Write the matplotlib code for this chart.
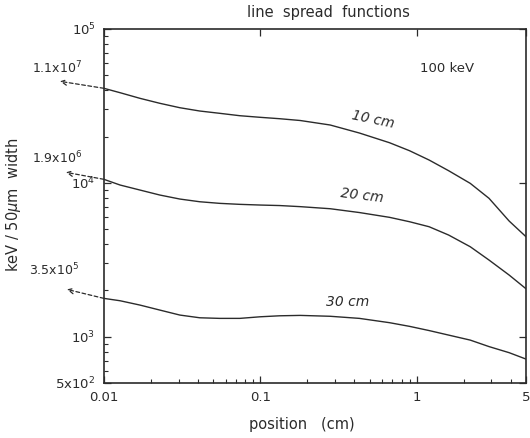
import numpy as np
import matplotlib
matplotlib.use("Agg")
import matplotlib.pyplot as plt
from matplotlib.ticker import FixedLocator, LogLocator, NullFormatter
from matplotlib.transforms import offset_copy

# position (cm) and keV / 50 um width
position = [0.01, 0.0127, 0.017, 0.0228, 0.0306, 0.041, 0.055, 0.074, 0.1,
            0.133, 0.18, 0.28, 0.43, 0.67, 0.9, 1.2, 1.6, 2.2, 2.9, 3.9, 5.0]
lsf_10cm = [41160, 38530, 35430, 32880, 30780, 29300, 28310, 27310, 26660,
            26110, 25420, 23760, 21080, 18230, 16170, 14070, 11990, 9920,
            7930, 5645, 4463]
lsf_20cm = [10540, 9676, 8979, 8330, 7846, 7535, 7356, 7247, 7172,
            7118, 7002, 6787, 6411, 5967, 5587, 5184, 4578, 3842,
            3148, 2515, 2048]
lsf_30cm = [1774, 1712, 1605, 1489, 1382, 1327, 1315, 1315, 1347,
            1367, 1375, 1357, 1315, 1233, 1167, 1096, 1024, 950,
            862, 787, 715]

curve_labels = ["10 cm", "20 cm", "30 cm"]
totals = [r"1.1x$10^7$", r"1.9x$10^6$", r"3.5x$10^5$"]

x_ticks = [0.01, 0.1, 1, 5]
x_ticklabels = ["0.01", "0.1", "1", "5"]
y_ticks = [500, 1e3, 1e4, 1e5]
y_ticklabels = [r"5x$10^2$", r"$10^3$", r"$10^4$", r"$10^5$"]

ink = "#2b2b2b"
plt.rcParams["font.family"] = ["DejaVu Sans"]
plt.rcParams["mathtext.fontset"] = "dejavusans"

fig = plt.figure(figsize=(5.3, 4.38), dpi=100)
ax = fig.add_axes([0.196, 0.1256, 0.7965, 0.8082])

series = [lsf_10cm, lsf_20cm, lsf_30cm]
for vals in series:
    ax.plot(position, vals, color=ink, lw=1.0)

ax.set_xscale("log")
ax.set_yscale("log")
ax.set_xlim(0.01, 5)
ax.set_ylim(500, 1e5)

ax.xaxis.set_major_locator(FixedLocator(x_ticks))
ax.set_xticklabels(x_ticklabels)
ax.xaxis.set_minor_locator(LogLocator(base=10, subs=np.arange(2, 10)))
ax.xaxis.set_minor_formatter(NullFormatter())
ax.yaxis.set_major_locator(FixedLocator(y_ticks))
ax.set_yticklabels(y_ticklabels)
ax.yaxis.set_minor_locator(LogLocator(base=10, subs=np.arange(2, 10)))
ax.yaxis.set_minor_formatter(NullFormatter())

ax.tick_params(which="major", direction="in", length=5, width=0.9, colors=ink,
               labelsize=9.5, top=True, right=True, pad=6)
ax.tick_params(which="minor", direction="in", length=3, width=0.8, colors=ink,
               top=False, right=False)
for s in ax.spines.values():
    s.set_linewidth(1.2)
    s.set_color(ink)

# dashed arrows from the start of each curve out to the total value
offsets = [(-44, 7), (-38, 7), (-37, 9)]
for vals, (dx, dy) in zip(series, offsets):
    tip = offset_copy(ax.transData, fig=fig, x=dx, y=dy, units="dots")
    ax.annotate("", xy=(position[0], vals[0]), xycoords=tip,
                xytext=(position[0], vals[0]), textcoords="data",
                arrowprops=dict(arrowstyle="->", ls=(0, (3, 2)), lw=0.9,
                                color=ink, shrinkA=0, shrinkB=0),
                annotation_clip=False)

total_pos = [(57, 68), (57, 158), (54, 270)]
for txt, (px, py) in zip(totals, total_pos):
    fig.text(px / 530, 1 - py / 438, txt, ha="center", va="center",
             fontsize=9, color=ink)

label_pos = [(0.637, 0.743, -12), (0.611, 0.528, -7), (0.578, 0.229, 0)]
for txt, (fx, fy, rot) in zip(curve_labels, label_pos):
    ax.text(fx, fy, txt, transform=ax.transAxes, ha="center", va="center",
            fontsize=10, color=ink, rotation=rot, style="italic")

ax.text(0.813, 0.887, "100 keV", transform=ax.transAxes, ha="center",
        va="center", fontsize=9.5, color=ink)

fig.text(328 / 530, 1 - 13 / 438, "line  spread  functions", ha="center",
         va="center", fontsize=10.5, color=ink)
fig.text(302 / 530, 1 - 424 / 438, "position   (cm)", ha="center",
         va="center", fontsize=10.5, color=ink)
fig.text(14 / 530, 1 - 205 / 438, "keV / 50$\\mu$m  width", ha="center",
         va="center", rotation=90, fontsize=10.5, color=ink)

fig.savefig("out.png", dpi=100)
